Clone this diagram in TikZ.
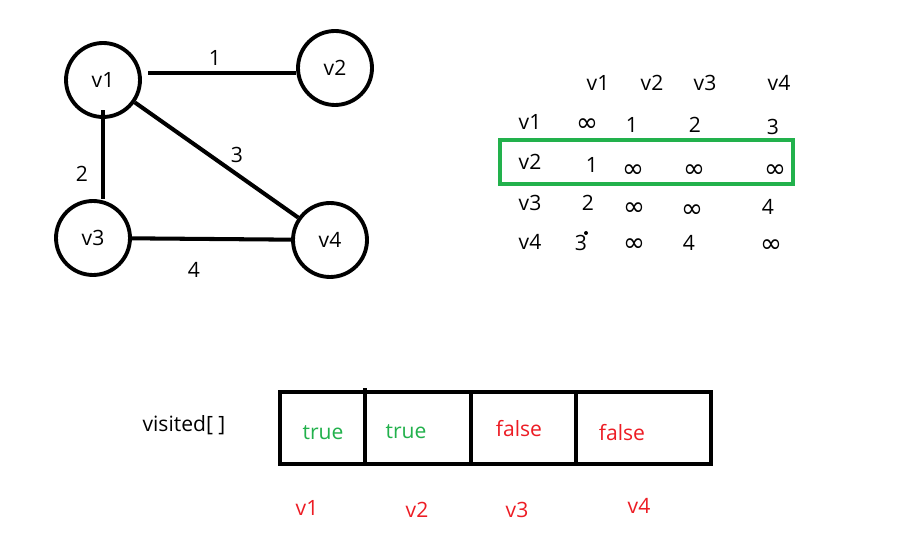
\documentclass[tikz,border=0pt]{standalone}
\usepackage{fontspec}
\setmainfont{Open Sans}
\newfontfamily\symfont{DejaVu Sans}
\usetikzlibrary{positioning}
\definecolor{PaintGreen}{RGB}{34,177,76}
\definecolor{PaintRed}{RGB}{237,28,36}
\newcommand{\infsym}{{\symfont\fontsize{15}{17}\selectfont ∞}}
\tikzset{
  vert/.style={draw, line width=2.2pt, circle, minimum size=1.48cm, inner sep=0pt},
  edge/.style={line width=2.3pt},
  wlab/.style={inner sep=1pt},
  mtxt/.style={inner sep=1pt},
  cell/.style={draw, line width=2.4pt, minimum height=1.44cm, inner sep=0pt, outer sep=0pt},
  truetxt/.style={inner sep=1pt, text=PaintGreen},
  falsetxt/.style={inner sep=1pt, text=PaintRed},
  idxtxt/.style={inner sep=1pt, text=PaintRed},
  rowbox/.style={draw=PaintGreen, line width=2.3pt, inner sep=0pt},
}

\begin{document}
\begin{tikzpicture}[x=0.02cm, y=-0.02cm, font=\fontsize{12}{14}\selectfont]
    \fill[white] (0,0) rectangle (905,543);
    \useasboundingbox (0,0) rectangle (905,543);
    % the graph
    \node[vert] (v1) at (103,80) {v1};
    \node[vert] (v2) at (335,68) {v2};
    \node[vert] (v3) at (93,238) {v3};
    \node[vert] (v4) at (330,240) {v4};
    \draw[edge, shorten <=4pt] (v1.10) -- (v1.10 -| v2.west);
    \draw[edge, shorten <=-5pt] (v1.south) -- (v1.south |- v3.north);
    \draw[edge] (v1) -- (v4);
    \draw[edge] (v3) -- (v4);
    \node[wlab] (w12) at (215,58) {1};
    \node[wlab] (w13) at (82,174) {2};
    \node[wlab] (w14) at (237,155) {3};
    \node[wlab] (w34) at (194,270) {4};
    % the adjacency matrix
    \foreach \x [count=\i] in {598,652,705,779}
      \node[mtxt] (h\i) at (\x,83) {v\i};
    \foreach \y [count=\i] in {122,162,203,242}
      \node[mtxt] (r\i) at (530,\y) {v\i};
    \foreach \x/\y/\t [count=\k] in {587/125/\infsym, 632/125/1, 695/125/2, 773/127/3,
        592/165/1, 633/171/\infsym, 694/171/\infsym, 775/171/\infsym,
        588/203/2, 634/209/\infsym, 692/211/\infsym, 768/207/4,
        581/243/3, 634/245/\infsym, 689/243/4, 771/246/\infsym}
      \node[mtxt] (m\k) at (\x,\y) {\t};
    \fill (586,233) circle (0.04cm);
    \node[rowbox, minimum width=5.86cm, minimum height=0.88cm] (hl) at (646.5,162) {};
    % the visited array
    \node (vis) at (184,425) {visited[ ]};
    \node[cell, minimum width=1.7cm] (c1) at (322.5,428) {};
    \node[cell, minimum width=2.12cm, right=0pt of c1] (c2) {};
    \node[cell, minimum width=2.1cm, right=0pt of c2] (c3) {};
    \node[cell, minimum width=2.7cm, right=0pt of c3] (c4) {};
    \draw[line width=2.4pt] (c1.north east) -- ++(0,-4);
    \node[truetxt] (t1) at (323,433) {true};
    \node[truetxt] (t2) at (406,432) {true};
    \node[falsetxt] (t3) at (519,429) {false};
    \node[falsetxt] (t4) at (622,433) {false};
    \node[idxtxt] (i1) at (307,508) {v1};
    \node[idxtxt] (i2) at (417,510) {v2};
    \node[idxtxt] (i3) at (517,510) {v3};
    \node[idxtxt] (i4) at (639,506) {v4};
\end{tikzpicture}
\end{document}
